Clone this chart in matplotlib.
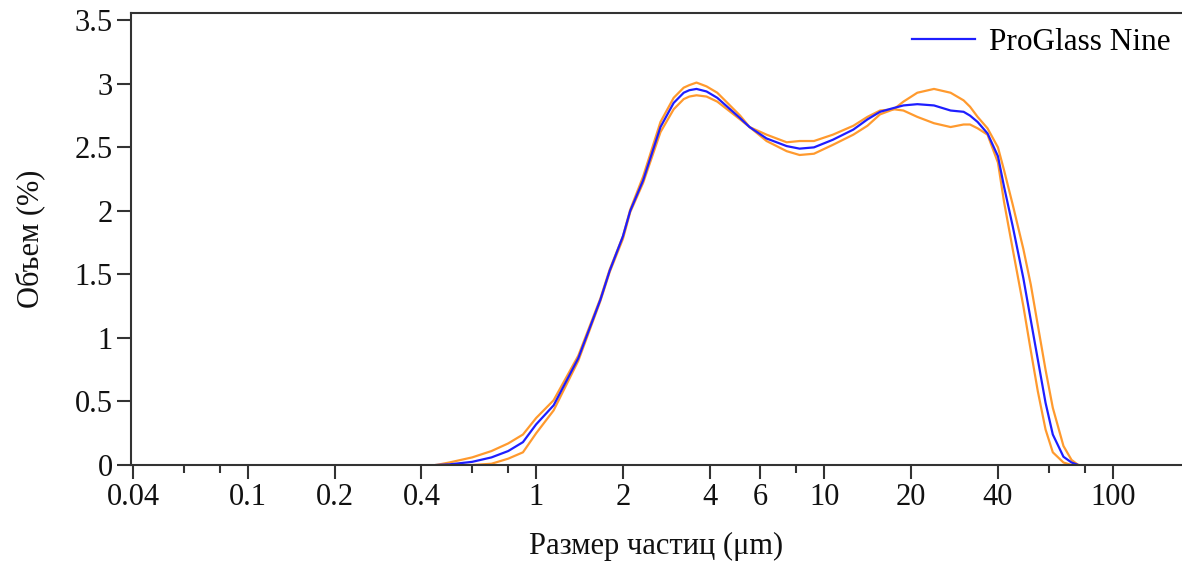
import matplotlib.pyplot as plt
import numpy as np

plt.rcParams['font.family'] = ['Liberation Serif', 'DejaVu Serif']

# particle size, um
size = [0.45, 0.5, 0.6, 0.7, 0.8, 0.9, 1.0, 1.15, 1.4, 1.67, 1.8, 2.0, 2.12, 2.35,
        2.7, 3.0, 3.25, 3.4, 3.6, 3.9, 4.25, 5.1, 5.5, 6.3, 7.4, 8.2, 9.2, 10.7, 12.6, 14.1,
        15.6, 17.4, 18.8, 21, 24, 27.4, 30.4, 32, 34, 36.8, 40, 42, 45, 49, 52, 55,
        58.5, 62, 67.5, 72, 76]

# volume, %
mean_vol = [0, 0.005, 0.025, 0.06, 0.11, 0.18, 0.32, 0.47, 0.84, 1.3, 1.53, 1.8, 2.0, 2.24,
            2.66, 2.85, 2.93, 2.95, 2.96, 2.94, 2.89, 2.73, 2.66, 2.57, 2.51, 2.49, 2.5, 2.56,
            2.64, 2.72, 2.78, 2.81, 2.83, 2.84, 2.83, 2.79, 2.78, 2.75, 2.7, 2.61, 2.43, 2.19,
            1.88, 1.47, 1.14, 0.83, 0.49, 0.24, 0.065, 0.02, 0]
upper_vol = [0, 0.02, 0.06, 0.11, 0.17, 0.24, 0.37, 0.51, 0.86, 1.31, 1.54, 1.8, 2.01, 2.27,
             2.7, 2.89, 2.97, 2.99, 3.01, 2.98, 2.93, 2.75, 2.66, 2.6, 2.54, 2.55, 2.55, 2.6,
             2.67, 2.74, 2.79, 2.8, 2.86, 2.93, 2.96, 2.93, 2.87, 2.82, 2.74, 2.65, 2.5, 2.32,
             2.05, 1.7, 1.42, 1.1, 0.75, 0.45, 0.15, 0.04, 0]
lower_vol = [0, 0, 0, 0.01, 0.05, 0.1, 0.25, 0.43, 0.82, 1.29, 1.52, 1.78, 1.99, 2.22,
             2.62, 2.8, 2.88, 2.9, 2.91, 2.9, 2.86, 2.72, 2.66, 2.55, 2.47, 2.44, 2.45, 2.52,
             2.6, 2.67, 2.76, 2.8, 2.79, 2.74, 2.69, 2.66, 2.68, 2.68, 2.65, 2.6, 2.38, 2.07,
             1.7, 1.25, 0.9, 0.58, 0.28, 0.1, 0.02, 0, 0]

major_ticks = [0.04, 0.1, 0.2, 0.4, 1, 2, 4, 6, 10, 20, 40, 100]
major_labels = ['0.04', '0.1', '0.2', '0.4', '1', '2', '4', '6', '10', '20', '40', '100']
minor_ticks = [0.06, 0.08, 0.6, 0.8, 8, 60, 80]
y_ticks = [0, 0.5, 1, 1.5, 2, 2.5, 3, 3.5]
y_labels = ['0', '0.5', '1', '1.5', '2', '2.5', '3', '3.5']

fig = plt.figure(figsize=(11.82, 5.64), dpi=100)
ax = fig.add_axes([0.1108, 0.1755, 0.8892, 0.802])

orange = '#FF9A2E'
ax.plot(size, upper_vol, color=orange, lw=1.6)
ax.plot(size, lower_vol, color=orange, lw=1.6)
ax.plot(size, mean_vol, color='#1E1EFF', lw=1.6, label='ProGlass Nine')

ax.set_xscale('log')
ax.set_xlim(0.0393, 174)
ax.set_ylim(0, 3.56)

ax.set_xticks(major_ticks)
ax.set_xticklabels(major_labels)
ax.set_xticks(minor_ticks, minor=True)
ax.xaxis.set_minor_formatter(plt.NullFormatter())
ax.set_yticks(y_ticks)
ax.set_yticklabels(y_labels)

spine_c = '#333333'
for s in ['left', 'bottom', 'top']:
    ax.spines[s].set_color(spine_c)
    ax.spines[s].set_linewidth(1.5)
ax.spines['right'].set_visible(False)

ax.tick_params(axis='both', which='major', length=10, width=1.5, color=spine_c,
               labelsize=22, labelcolor='#111111', pad=3)
ax.tick_params(axis='x', which='minor', length=6, width=1.5, color=spine_c)

ax.set_xlabel('Размер частиц (μm)', fontsize=22, color='#111111', labelpad=14)
ax.set_ylabel('Объем (%)', fontsize=22, color='#111111', labelpad=21)

ax.legend(loc='upper right', frameon=False, fontsize=22.5, handlelength=2.0,
          handletextpad=0.45, borderaxespad=0.1, bbox_to_anchor=(1.004, 1.0))

fig.savefig('out.png', dpi=100)
